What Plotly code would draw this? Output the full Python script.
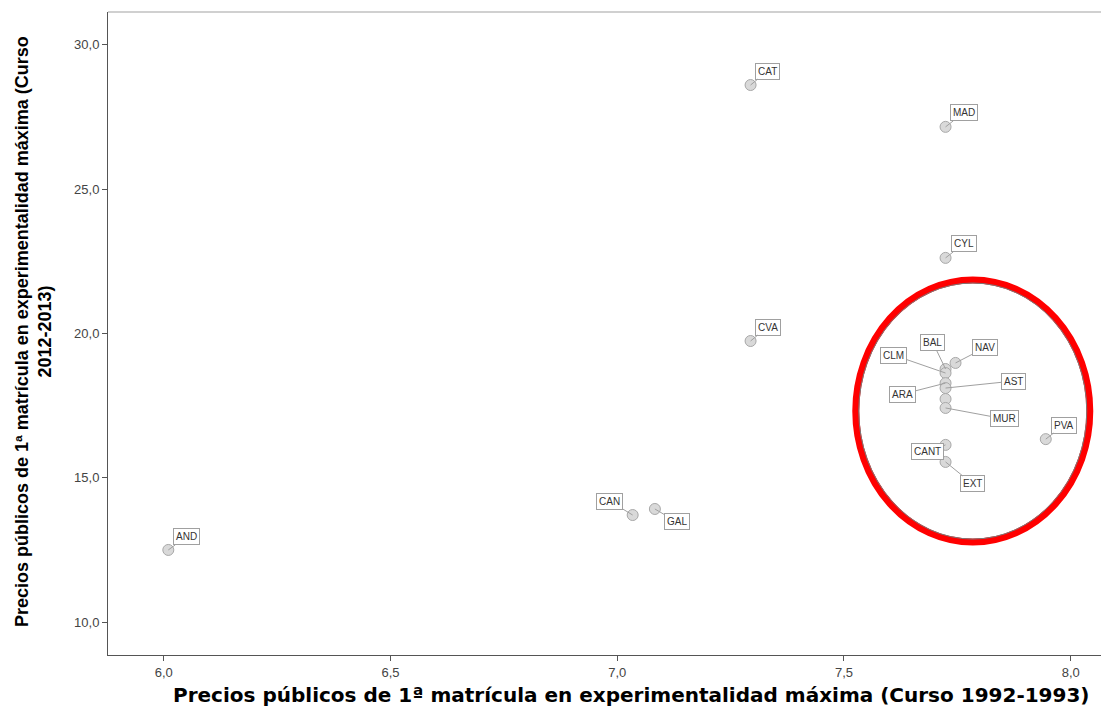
import plotly.graph_objects as go

# ---- data ----
regions = ["AND", "CAN", "GAL", "CAT", "CVA", "MAD", "CYL", "NAV", "BAL", "CLM",
           "ARA", "AST", "RIO", "MUR", "CANT", "EXT", "PVA"]
precio_1992 = [6.01, 7.034, 7.083, 7.294, 7.294, 7.724, 7.724, 7.746, 7.724, 7.724,
               7.724, 7.724, 7.724, 7.724, 7.724, 7.724, 7.945]
precio_2012 = [12.50, 13.71, 13.92, 28.61, 19.74, 27.16, 22.62, 18.98, 18.77, 18.63,
               18.28, 18.11, 17.73, 17.42, 16.14, 15.55, 16.34]
shown_labels = ["AND", "CAN", "GAL", "CAT", "CVA", "MAD", "CYL", "NAV", "BAL", "CLM",
                "ARA", "AST", "MUR", "CANT", "EXT", "PVA"]
x_ticks = [6.0, 6.5, 7.0, 7.5, 8.0]
x_ticktext = ["6,0", "6,5", "7,0", "7,5", "8,0"]
y_ticks = [10, 15, 20, 25, 30]
y_ticktext = ["10,0", "15,0", "20,0", "25,0", "30,0"]

x_title = "Precios públicos de 1ª matrícula en experimentalidad máxima (Curso 1992-1993)"
y_title = "Precios públicos de 1ª matrícula en experimentalidad máxima (Curso<br>2012-2013)"

# label offsets (pixels) for the callout boxes
label_offsets = {
    "AND": (18, -13), "CAT": (17, -14), "MAD": (18, -14), "CYL": (18, -14),
    "CVA": (17, -14), "CAN": (-23, -14), "GAL": (22, 13), "BAL": (-13, -27),
    "NAV": (29, -15), "CLM": (-52, -18), "AST": (68, -7), "ARA": (-43, 11),
    "MUR": (59, 11), "PVA": (18, -14), "CANT": (-18, 7), "EXT": (27, 22),
}

fig = go.Figure()
fig.add_trace(go.Scatter(
    x=precio_1992, y=precio_2012, mode="markers", text=regions,
    marker=dict(symbol="circle", size=11, color="#d9d9d9",
                line=dict(color="#a8a8a8", width=1)),
    hoverinfo="text+x+y", showlegend=False,
))

annotations = []
for name, xv, yv in zip(regions, precio_1992, precio_2012):
    if name not in shown_labels:
        continue
    ax, ay = label_offsets[name]
    annotations.append(dict(
        x=xv, y=yv, xref="x", yref="y", text=name, showarrow=True,
        arrowhead=0, arrowwidth=1, arrowcolor="#a0a0a0", ax=ax, ay=ay,
        standoff=0, startstandoff=0,
        font=dict(family="Liberation Sans, Arial", size=10, color="#333333"),
        bgcolor="white", bordercolor="#a0a0a0", borderwidth=1, borderpad=2,
    ))

annotations.append(dict(
    text=x_title, xref="paper", yref="paper", x=0.5, y=0, xanchor="center",
    yanchor="top", xshift=24, yshift=-26, showarrow=False,
    font=dict(family="DejaVu Sans", size=20, color="#000000", weight="bold"),
))
annotations.append(dict(
    text=y_title, xref="paper", yref="paper", x=0, y=0.5, xanchor="right",
    yanchor="middle", xshift=-51, yshift=2, textangle=-90, showarrow=False,
    align="center",
    font=dict(family="Liberation Sans, Arial", size=18, color="#000000", weight="bold"),
))

shapes = [
    dict(type="circle", xref="x", yref="y", x0=7.526, x1=8.042, y0=12.773, y1=21.854,
         line=dict(color="#ff0000", width=7)),
    dict(type="circle", xref="x", yref="y", x0=7.5326, x1=8.0354, y0=12.877, y1=21.75,
         line=dict(color="#7a7a7a", width=1)),
    dict(type="line", xref="paper", yref="paper", x0=0, x1=1, y0=1, y1=1,
         line=dict(color="#d0d0d0", width=2)),
]

# the page body adds an 8px offset; the figure is sized to fill the 1109x707 window
fig.update_layout(
    width=1101, height=699,
    margin=dict(l=100, r=2, t=4, b=52),
    plot_bgcolor="white", paper_bgcolor="white",
    annotations=annotations, shapes=shapes,
    xaxis=dict(range=[5.877, 8.08], tickvals=x_ticks, ticktext=x_ticktext,
               showgrid=False, zeroline=False, showline=True, linecolor="#555555",
               linewidth=1, ticks="outside", ticklen=5, tickcolor="#555555",
               tickfont=dict(family="Liberation Sans, Arial", size=13, color="#444444")),
    yaxis=dict(range=[8.86, 31.14], tickvals=y_ticks, ticktext=y_ticktext,
               showgrid=False, zeroline=False, showline=True, linecolor="#555555",
               linewidth=1, ticks="outside", ticklen=5, tickcolor="#555555",
               tickfont=dict(family="Liberation Sans, Arial", size=13, color="#444444")),
)

fig.write_html("out.html")
